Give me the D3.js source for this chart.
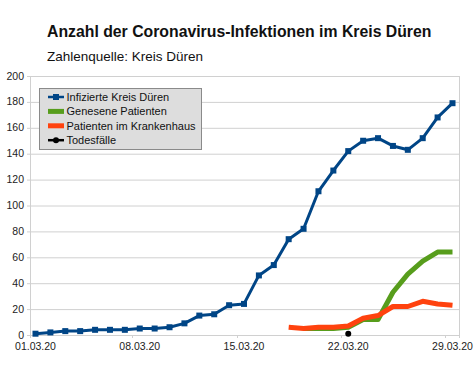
<!DOCTYPE html>
<html>
<head>
<meta charset="utf-8">
<script src="https://cdn.jsdelivr.net/npm/d3@7"></script>
<style>
  body { margin: 0; background: #fff; }
  svg { font-family: 'Liberation Sans', Arial, sans-serif; }
</style>
</head>
<body>
<div id="graf"></div>
<script>
// Daten (März 2020)
const tage = ['01.03.20', '02.03.20', '03.03.20', '04.03.20', '05.03.20', '06.03.20', '07.03.20',
  '08.03.20', '09.03.20', '10.03.20', '11.03.20', '12.03.20', '13.03.20', '14.03.20',
  '15.03.20', '16.03.20', '17.03.20', '18.03.20', '19.03.20', '20.03.20', '21.03.20',
  '22.03.20', '23.03.20', '24.03.20', '25.03.20', '26.03.20', '27.03.20', '28.03.20', '29.03.20']

const infizierte = [1, 2, 3, 3, 4, 4, 4, 5, 5, 6, 9, 15, 16, 23, 24, 46, 54, 74, 82, 111, 127, 142, 150, 152, 146, 143, 152, 168, 179]
const genesene = [null, null, null, null, null, null, null, null, null, null, null, null, null, null,
  null, null, null, null, 5, 5, 5, 6, 12, 12, 33, 47, 57, 64, 64]
const krankenhaus = [null, null, null, null, null, null, null, null, null, null, null, null, null, null,
  null, null, null, 6, 5, 6, 6, 7, 13, 15, 22, 22, 26, 24, 23]
const todesfaelle = [null, null, null, null, null, null, null, null, null, null, null, null, null, null,
  null, null, null, null, null, null, null, 1, null, null, null, null, null, null, null]

const yTicks = [0, 20, 40, 60, 80, 100, 120, 140, 160, 180, 200]
const xLabels = ['01.03.20', '08.03.20', '15.03.20', '22.03.20', '29.03.20']

const serien = [
  { name: 'Infizierte Kreis Düren', werte: infizierte, farbe: '#004586', breite: 3, marker: 'rect' },
  { name: 'Genesene Patienten', werte: genesene, farbe: '#579d1c', breite: 5, marker: null },
  { name: 'Patienten im Krankenhaus', werte: krankenhaus, farbe: '#ff420e', breite: 5, marker: null },
  { name: 'Todesfälle', werte: todesfaelle, farbe: '#000000', breite: 2, marker: 'circle' },
]

const anchoTotal = 474
const altoTotal = 388

const svg = d3.select('#graf')
  .append('svg')
  .attr('width', anchoTotal)
  .attr('height', altoTotal)

const plot = { left: 30, right: 459, top: 76, bottom: 335 }

const x = d3.scalePoint().domain(tage).range([35.5, 452.5])
const y = d3.scaleLinear().domain([0, 200]).range([plot.bottom, plot.top])
const paso = x.step()

// titulos
svg.append('text')
  .attr('x', 47)
  .attr('y', 37)
  .attr('font-size', 15.8)
  .attr('font-weight', 'bold')
  .attr('fill', '#111')
  .text('Anzahl der Coronavirus-Infektionen im Kreis Düren')

svg.append('text')
  .attr('x', 47)
  .attr('y', 61)
  .attr('font-size', 13.5)
  .attr('fill', '#111')
  .text('Zahlenquelle: Kreis Düren')

// rejilla
svg.append('g')
  .selectAll('line')
  .data(yTicks)
  .join('line')
  .attr('x1', plot.left - 3)
  .attr('x2', plot.right)
  .attr('y1', (d) => y(d) + 0.5)
  .attr('y2', (d) => y(d) + 0.5)
  .attr('stroke', '#d0d0d0')
  .attr('stroke-width', 1)

svg.append('g')
  .selectAll('text')
  .data(yTicks)
  .join('text')
  .attr('x', 24)
  .attr('y', (d) => y(d) + 3.5)
  .attr('text-anchor', 'end')
  .attr('font-size', 10.5)
  .attr('fill', '#222')
  .text((d) => d)

// bordes
svg.append('line')
  .attr('x1', plot.left + 0.5).attr('x2', plot.left + 0.5)
  .attr('y1', plot.top).attr('y2', plot.bottom + 3)
  .attr('stroke', '#d0d0d0')
svg.append('line')
  .attr('x1', plot.right + 0.5).attr('x2', plot.right + 0.5)
  .attr('y1', plot.top).attr('y2', plot.bottom + 3)
  .attr('stroke', '#d0d0d0')

// marcas eje x en los limites de categoria
svg.append('g')
  .selectAll('line')
  .data(xLabels.slice(1))
  .join('line')
  .attr('x1', (d) => Math.round(x(d) - paso / 2) + 0.5)
  .attr('x2', (d) => Math.round(x(d) - paso / 2) + 0.5)
  .attr('y1', plot.bottom)
  .attr('y2', plot.bottom + 3)
  .attr('stroke', '#d0d0d0')

svg.append('g')
  .selectAll('text')
  .data(xLabels)
  .join('text')
  .attr('x', (d) => x(d))
  .attr('y', 350)
  .attr('text-anchor', 'middle')
  .attr('font-size', 10.5)
  .attr('fill', '#222')
  .text((d) => d)

// series
const linea = (valores) => d3.line()
  .defined((d) => d != null)
  .x((d, i) => x(tage[i]))
  .y((d) => y(d))(valores)

serien.forEach((s) => {
  const g = svg.append('g')
  g.append('path')
    .attr('d', linea(s.werte))
    .attr('fill', 'none')
    .attr('stroke', s.farbe)
    .attr('stroke-width', s.breite)
    .attr('stroke-linejoin', 'round')

  const puntos = s.werte.map((v, i) => ({ v, i })).filter((d) => d.v != null)
  if (s.marker === 'rect') {
    g.selectAll('rect')
      .data(puntos)
      .join('rect')
      .attr('x', (d) => x(tage[d.i]) - 3)
      .attr('y', (d) => y(d.v) - 3)
      .attr('width', 6)
      .attr('height', 6)
      .attr('fill', s.farbe)
  } else if (s.marker === 'circle') {
    g.selectAll('circle')
      .data(puntos)
      .join('circle')
      .attr('cx', (d) => x(tage[d.i]))
      .attr('cy', (d) => y(d.v))
      .attr('r', 3)
      .attr('fill', s.farbe)
  }
})

// leyenda
const leyenda = svg.append('g').attr('transform', 'translate(39, 88)')

leyenda.append('rect')
  .attr('x', 0.5)
  .attr('y', 0.5)
  .attr('width', 162)
  .attr('height', 61)
  .attr('fill', '#dddddd')
  .attr('stroke', '#8a8a8a')

const filas = leyenda.selectAll('g.fila')
  .data(serien)
  .join('g')
  .attr('class', 'fila')
  .attr('transform', (d, i) => `translate(0, ${9 + i * 14.4})`)

filas.append('line')
  .attr('x1', 9)
  .attr('x2', 25)
  .attr('y1', 0)
  .attr('y2', 0)
  .attr('stroke', (d) => d.farbe)
  .attr('stroke-width', (d) => (d.marker ? 2.5 : 5))

filas.filter((d) => d.marker === 'rect')
  .append('rect')
  .attr('x', 14)
  .attr('y', -3)
  .attr('width', 6)
  .attr('height', 6)
  .attr('fill', (d) => d.farbe)

filas.filter((d) => d.marker === 'circle')
  .append('circle')
  .attr('cx', 17)
  .attr('cy', 0)
  .attr('r', 3)
  .attr('fill', (d) => d.farbe)

filas.append('text')
  .attr('x', 27.5)
  .attr('y', 4)
  .attr('font-size', 11)
  .attr('fill', '#111')
  .text((d) => d.name)
</script>
</body>
</html>
